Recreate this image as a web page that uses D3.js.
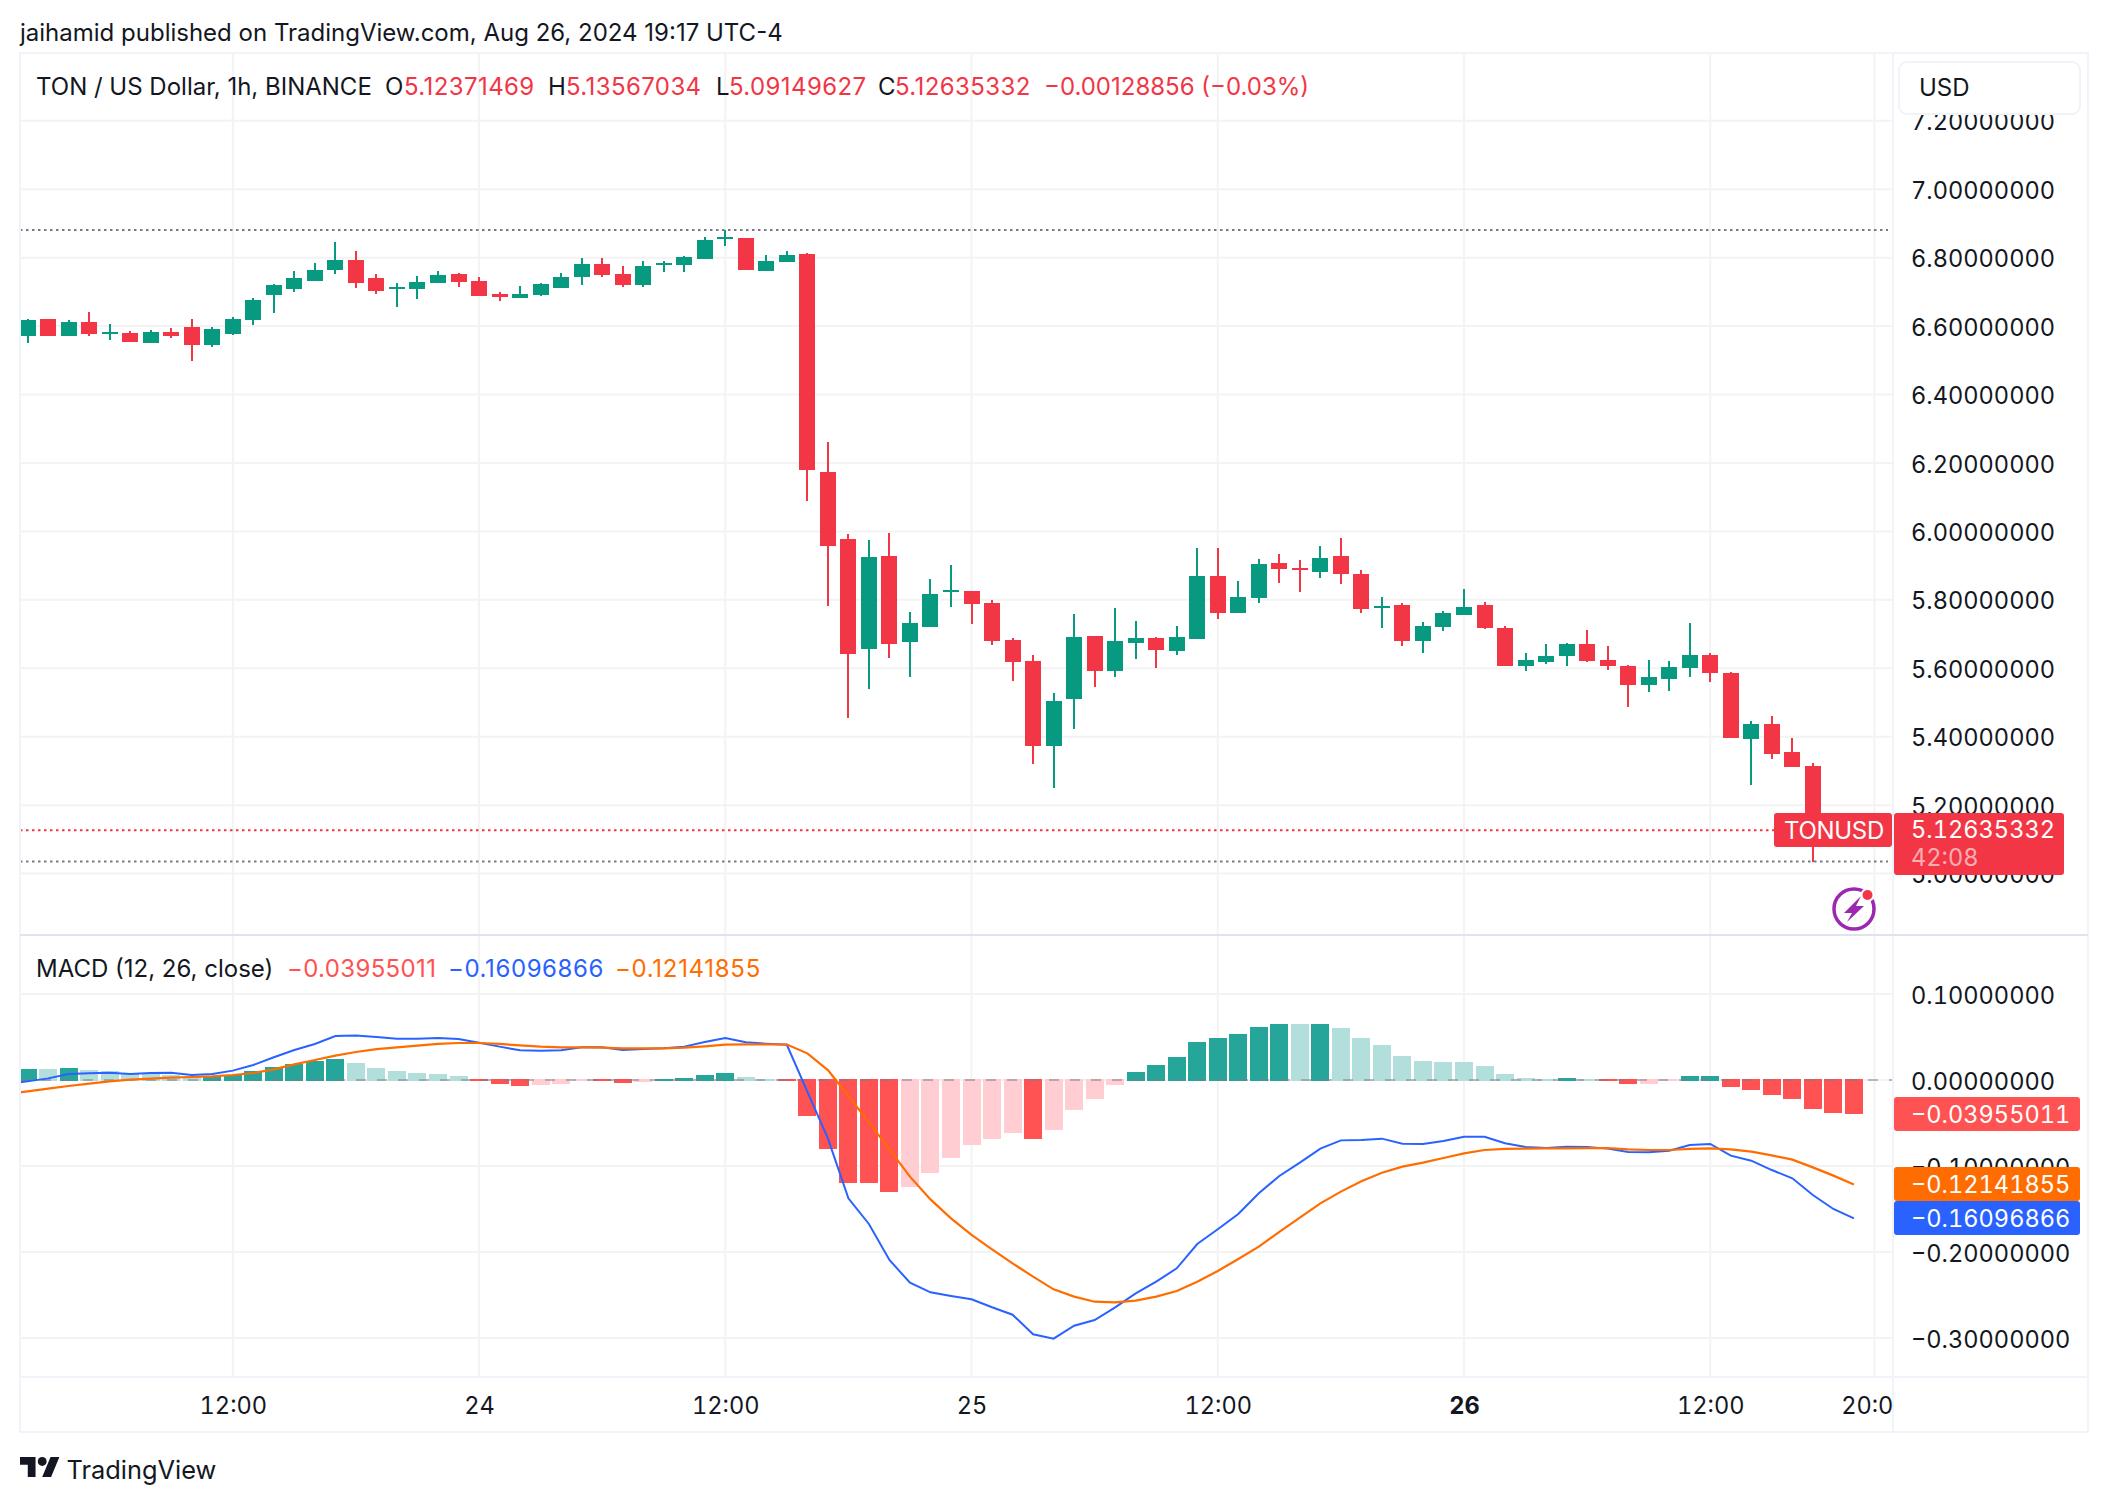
<!DOCTYPE html>
<html>
<head>
<meta charset="utf-8">
<title>TON / US Dollar</title>
<script src="https://cdn.jsdelivr.net/npm/d3@7"></script>
<style>
    html, body { margin: 0; padding: 0; background: #fff; }
    svg { display: block; }
    text { font-family: Inter, "Noto Sans", sans-serif; fill: #131722; }
    .num { font-variant-numeric: tabular-nums; font-feature-settings: "tnum" 1; }
    .legend-num { letter-spacing: 0.4px; }
</style>
</head>
<body>
<div id="chart"></div>
<script>
// Hourly candles, first bar is Aug 23 02:00, last bar Aug 26 19:00
const candleOpen = [
    6.571, 6.621, 6.571, 6.612, 6.577, 6.580, 6.551, 6.583, 6.597, 6.545,
    6.577, 6.618, 6.691, 6.708, 6.732, 6.764, 6.793, 6.741, 6.708, 6.708,
    6.726, 6.752, 6.732, 6.694, 6.682, 6.691, 6.711, 6.744, 6.781, 6.752,
    6.720, 6.779, 6.779, 6.796, 6.855, 6.857, 6.761, 6.787, 6.811, 6.174,
    5.978, 5.656, 5.929, 5.677, 5.721, 5.823, 5.826, 5.791, 5.683, 5.622,
    5.373, 5.510, 5.694, 5.593, 5.674, 5.689, 5.651, 5.685, 5.870, 5.762,
    5.805, 5.908, 5.894, 5.881, 5.927, 5.877, 5.775, 5.784, 5.679, 5.722,
    5.757, 5.784, 5.717, 5.608, 5.617, 5.635, 5.670, 5.623, 5.608, 5.550,
    5.570, 5.600, 5.638, 5.585, 5.394, 5.438, 5.356, 5.315, 5.140, 5.12371469
];
const candleHigh = [
    6.621, 6.621, 6.618, 6.641, 6.606, 6.586, 6.589, 6.594, 6.621, 6.597,
    6.627, 6.682, 6.723, 6.761, 6.784, 6.846, 6.819, 6.752, 6.726, 6.746,
    6.761, 6.755, 6.744, 6.700, 6.717, 6.726, 6.755, 6.799, 6.799, 6.776,
    6.790, 6.790, 6.805, 6.860, 6.881, 6.857, 6.808, 6.819, 6.814, 6.262,
    5.992, 5.975, 5.996, 5.764, 5.861, 5.902, 5.826, 5.800, 5.689, 5.639,
    5.528, 5.759, 5.694, 5.776, 5.738, 5.692, 5.723, 5.951, 5.951, 5.855,
    5.920, 5.934, 5.917, 5.958, 5.980, 5.886, 5.807, 5.790, 5.734, 5.766,
    5.831, 5.795, 5.725, 5.646, 5.670, 5.673, 5.711, 5.664, 5.611, 5.623,
    5.620, 5.731, 5.644, 5.588, 5.446, 5.461, 5.397, 5.324, 5.160, 5.13567034
];
const candleLow = [
    6.551, 6.571, 6.571, 6.571, 6.559, 6.554, 6.551, 6.565, 6.498, 6.539,
    6.574, 6.603, 6.638, 6.700, 6.732, 6.752, 6.711, 6.694, 6.656, 6.679,
    6.726, 6.714, 6.688, 6.673, 6.682, 6.688, 6.711, 6.720, 6.744, 6.714,
    6.714, 6.758, 6.758, 6.796, 6.834, 6.764, 6.761, 6.787, 6.089, 5.782,
    5.455, 5.540, 5.630, 5.575, 5.721, 5.780, 5.730, 5.668, 5.563, 5.320,
    5.250, 5.423, 5.545, 5.575, 5.627, 5.601, 5.639, 5.685, 5.744, 5.762,
    5.791, 5.850, 5.823, 5.864, 5.845, 5.763, 5.719, 5.664, 5.644, 5.708,
    5.757, 5.714, 5.606, 5.591, 5.614, 5.606, 5.617, 5.594, 5.486, 5.530,
    5.535, 5.576, 5.559, 5.395, 5.259, 5.335, 5.312, 5.035, 5.080, 5.09149627
];
const candleClose = [
    6.618, 6.571, 6.612, 6.577, 6.583, 6.554, 6.583, 6.571, 6.545, 6.592,
    6.621, 6.676, 6.720, 6.741, 6.764, 6.793, 6.726, 6.703, 6.714, 6.729,
    6.749, 6.729, 6.688, 6.685, 6.694, 6.723, 6.744, 6.781, 6.749, 6.720,
    6.776, 6.784, 6.802, 6.852, 6.860, 6.764, 6.790, 6.808, 6.180, 5.958,
    5.643, 5.925, 5.671, 5.733, 5.817, 5.829, 5.788, 5.680, 5.618, 5.373,
    5.505, 5.692, 5.593, 5.680, 5.689, 5.654, 5.692, 5.870, 5.762, 5.809,
    5.905, 5.890, 5.888, 5.922, 5.877, 5.772, 5.781, 5.679, 5.725, 5.763,
    5.778, 5.717, 5.608, 5.623, 5.635, 5.670, 5.620, 5.606, 5.550, 5.576,
    5.603, 5.638, 5.585, 5.395, 5.438, 5.350, 5.312, 5.140, 5.12764188, 5.12635332
];

// MACD histogram, one value per candle
const histValues = [
    .0130, .0127, .0140, .0116, .0101, .0078, .0066, .0058, .0039, .0047,
    .0058, .0105, .0151, .0186, .0221, .0244, .0198, .0140, .0105, .0081,
    .0070, .0047, -.0012, -.0047, -.0070, -.0058, -.0047, -.0010, -.0014, -.0035,
    -.0023, .0012, .0023, .0058, .0081, .0035, .0012, -.0012, -.0419, -.0802,
    -.1195, -.1200, -.1302, -.1244, -.1081, -.0907, -.0756, -.0686, -.0616, -.0686,
    -.0581, -.0349, -.0221, -.0058, .0093, .0174, .0267, .0442, .0488, .0535,
    .0616, .0652, .0648, .0652, .0605, .0488, .0407, .0279, .0221, .0209,
    .0207, .0163, .0070, .0023, .0012, .0023, .0012, -.0012, -.0047, -.0045,
    -.0012, .0047, .0048, -.0081, -.0116, -.0174, -.0221, -.0337, -.0385, -.03955011
];

// The two lines start one bar earlier, that bar sits left of the pane edge
const macdValues = [
    -.0047,
    -.0016, .0019, .0070, .0078, .0085, .0070, .0081, .0085, .0058, .0070,
    .0109, .0174, .0264, .0349, .0419, .0512, .0516, .0500, .0481, .0481,
    .0488, .0477, .0434, .0388, .0345, .0341, .0345, .0380, .0380, .0349,
    .0360, .0368, .0388, .0442, .0488, .0438, .0422, .0410, -.0136, -.0678,
    -.1376, -.1674, -.2093, -.2357, -.2469, -.2512, -.2550, -.2643, -.2729, -.2957,
    -.3008, -.2857, -.2791, -.2643, -.2481, -.2345, -.2190, -.1907, -.1736, -.1558,
    -.1318, -.1116, -.0961, -.0798, -.0702, -.0698, -.0682, -.0740, -.0744, -.0709,
    -.0659, -.0659, -.0736, -.0779, -.0791, -.0775, -.0779, -.0798, -.0837, -.0841,
    -.0822, -.0756, -.0744, -.0880, -.0938, -.1047, -.1143, -.1337, -.1500, -.16096866
];
const signalValues = [
    -.0163,
    -.0132, -.0101, -.0070, -.0043, -.0016, .0004, .0016, .0027, .0035, .0043,
    .0058, .0081, .0124, .0182, .0233, .0283, .0326, .0360, .0380, .0399,
    .0419, .0430, .0430, .0419, .0403, .0388, .0380, .0380, .0376, .0368,
    .0368, .0368, .0376, .0391, .0411, .0415, .0415, .0413, .0310, .0116,
    -.0186, -.0492, -.0806, -.1124, -.1388, -.1609, -.1802, -.1969, -.2132, -.2287,
    -.2434, -.2519, -.2578, -.2585, -.2566, -.2519, -.2453, -.2345, -.2221, -.2081,
    -.1938, -.1767, -.1601, -.1434, -.1298, -.1178, -.1078, -.1008, -.0961, -.0907,
    -.0853, -.0814, -.0802, -.0798, -.0795, -.0795, -.0791, -.0791, -.0806, -.0814,
    -.0814, -.0802, -.0795, -.0806, -.0833, -.0876, -.0926, -.1016, -.1112, -.12141855
];

const priceTicks = [7.2, 7.0, 6.8, 6.6, 6.4, 6.2, 6.0, 5.8, 5.6, 5.4, 5.2, 5.0];
const macdTicks = [0.1, 0, -0.1, -0.2, -0.3];
const timeTickBars = [10, 22, 34, 46, 58, 70, 82, 90];
const timeTickLabels = ['12:00', '24', '12:00', '25', '12:00', '26', '12:00', '20:00'];
const boldTimeLabel = '26';

const highLine = 6.881;
const lowLine = 5.035;
const lastPrice = 5.12635332;
const countdown = '42:08';

const titleText = 'jaihamid published on TradingView.com, Aug 26, 2024 19:17 UTC-4';
const legendName = 'TON / US Dollar, 1h, BINANCE';
const legendOhlc = [
    ['O', '5.12371469', 385, 404],
    ['H', '5.13567034', 548, 566],
    ['L', '5.09149627', 716, 729],
    ['C', '5.12635332', 878, 895]
];
const legendChange = '\u22120.00128856 (\u22120.03%)';
const macdLegend = 'MACD (12, 26, close)';

const red = '#f23645';
const green = '#089981';
const textColor = '#131722';
const gridColor = '#f3f3f4';
const frameColor = '#f0f3fa';
const macdRed = '#ff5252';
const macdBlue = '#2962ff';
const macdOrange = '#ff6d00';

const width = 2108;
const height = 1502;
const paneLeft = 20;
const paneRight = 1893;
const frameRight = 2088;
const frameTop = 53;
const paneSplit = 935;
const paneBottom = 1377;
const frameBottom = 1432;
const axisTextX = 1911;
const fontSize = 24;
const axisFontSize = 23.6;

const svg = d3.select('#chart')
    .append('svg')
    .attr('width', width)
    .attr('height', height);

const x = d3.scaleLinear().domain([0, 89]).range([27.6, 1853.9]);
const yPrice = d3.scaleLinear().domain([5.0, 7.2]).range([873.6, 120.8]);
const yMacd = d3.scaleLinear().domain([-0.3, 0.1]).range([1338, 994]);

const defs = svg.append('defs');
function addClip(id, x0, y0, w, h) {
    defs.append('clipPath').attr('id', id)
        .append('rect').attr('x', x0).attr('y', y0).attr('width', w).attr('height', h);
}
addClip('clip-price', paneLeft, frameTop, paneRight - paneLeft, paneSplit - frameTop);
addClip('clip-macd', paneLeft, paneSplit, paneRight - paneLeft, paneBottom - paneSplit);
addClip('clip-time', paneLeft, paneBottom, paneRight - paneLeft, frameBottom - paneBottom);

// Gridlines
const grid = svg.append('g').attr('stroke', gridColor).attr('stroke-width', 2);
grid.selectAll('.vgrid').data(timeTickBars).enter().append('line')
    .attr('x1', d => x(d)).attr('x2', d => x(d))
    .attr('y1', frameTop).attr('y2', paneBottom);
grid.selectAll('.pgrid').data(priceTicks).enter().append('line')
    .attr('x1', paneLeft).attr('x2', paneRight)
    .attr('y1', d => yPrice(d)).attr('y2', d => yPrice(d));
grid.selectAll('.mgrid').data(macdTicks).enter().append('line')
    .attr('x1', paneLeft).attr('x2', paneRight)
    .attr('y1', d => yMacd(d)).attr('y2', d => yMacd(d));

// Candles
const candles = svg.append('g').attr('clip-path', 'url(#clip-price)').attr('shape-rendering', 'crispEdges');
const bars = candleOpen.map((o, i) => ({
    i: i, o: o, h: candleHigh[i], l: candleLow[i], c: candleClose[i]
}));
candles.selectAll('.wick').data(bars).enter().append('rect')
    .attr('x', d => x(d.i) - 1)
    .attr('width', 2)
    .attr('y', d => yPrice(d.h))
    .attr('height', d => yPrice(d.l) - yPrice(d.h))
    .attr('fill', d => d.c >= d.o ? green : red);
candles.selectAll('.body').data(bars).enter().append('rect')
    .attr('x', d => x(d.i) - 8)
    .attr('width', 16)
    .attr('y', d => yPrice(Math.max(d.o, d.c)))
    .attr('height', d => Math.max(2, yPrice(Math.min(d.o, d.c)) - yPrice(Math.max(d.o, d.c))))
    .attr('fill', d => d.c >= d.o ? green : red);

// High, low and last price dotted lines
const dotted = svg.append('g').attr('stroke-width', 2).attr('stroke-dasharray', '2.5 3.5');
dotted.selectAll('.hl').data([highLine, lowLine]).enter().append('line')
    .attr('x1', paneLeft).attr('x2', 1888)
    .attr('y1', d => yPrice(d)).attr('y2', d => yPrice(d))
    .attr('stroke', '#787b86');
dotted.append('line')
    .attr('x1', paneLeft).attr('x2', 1774)
    .attr('y1', yPrice(lastPrice)).attr('y2', yPrice(lastPrice))
    .attr('stroke', red);

// MACD histogram, shade depends on the change from the previous bar
function histColor(v, i) {
    const prev = i > 0 ? histValues[i - 1] : -1;
    if (v >= 0) return v >= prev ? '#26a69a' : '#b2dfdb';
    return v < prev ? macdRed : '#ffcdd2';
}
const macdPane = svg.append('g').attr('clip-path', 'url(#clip-macd)');
macdPane.append('g').attr('shape-rendering', 'crispEdges')
    .selectAll('rect').data(histValues).enter().append('rect')
    .attr('x', (d, i) => x(i) - 9)
    .attr('width', 18)
    .attr('y', d => d >= 0 ? yMacd(d) : yMacd(0) - 1)
    .attr('height', d => d >= 0 ? yMacd(0) + 1 - yMacd(d) : yMacd(d) - yMacd(0) + 1)
    .attr('fill', histColor);

macdPane.append('line')
    .attr('x1', paneLeft).attr('x2', paneRight)
    .attr('y1', yMacd(0)).attr('y2', yMacd(0))
    .attr('stroke', '#787b86').attr('stroke-opacity', 0.5)
    .attr('stroke-width', 2).attr('stroke-dasharray', '10 11');

const macdLine = d3.line().x((d, i) => x(i - 1)).y(d => yMacd(d));
macdPane.append('path').attr('d', macdLine(macdValues))
    .attr('fill', 'none').attr('stroke', macdBlue).attr('stroke-width', 2);
macdPane.append('path').attr('d', macdLine(signalValues))
    .attr('fill', 'none').attr('stroke', macdOrange).attr('stroke-width', 2.2);

// Frame and pane dividers
const frame = svg.append('g').attr('stroke', frameColor).attr('stroke-width', 2).attr('fill', 'none');
frame.append('rect')
    .attr('x', paneLeft).attr('y', frameTop)
    .attr('width', frameRight - paneLeft).attr('height', frameBottom - frameTop);
frame.append('line')
    .attr('x1', paneRight).attr('x2', paneRight).attr('y1', frameTop).attr('y2', frameBottom);
frame.append('line')
    .attr('x1', paneLeft).attr('x2', frameRight).attr('y1', paneBottom).attr('y2', paneBottom);
frame.append('line')
    .attr('x1', paneLeft).attr('x2', frameRight).attr('y1', paneSplit).attr('y2', paneSplit)
    .attr('stroke', '#e0e3eb');

// Price and MACD axes
function styleAxis(g) {
    g.select('.domain').remove();
    g.selectAll('.tick line').remove();
    g.selectAll('text')
        .attr('x', 0)
        .attr('y', 1.5)
        .attr('text-anchor', 'start')
        .attr('class', 'num')
        .attr('font-size', axisFontSize)
        .attr('font-family', 'Inter')
        .attr('fill', textColor);
}
svg.append('g')
    .attr('transform', `translate(${axisTextX},0)`)
    .call(d3.axisRight(yPrice).tickValues(priceTicks).tickFormat(d3.format('.8f')))
    .call(styleAxis);
svg.append('g')
    .attr('transform', `translate(${axisTextX},0)`)
    .call(d3.axisRight(yMacd).tickValues(macdTicks).tickFormat(d3.format('.8f')))
    .call(styleAxis);

// Time axis, the last label is cut by the price axis
const timeAxis = svg.append('g')
    .attr('clip-path', 'url(#clip-time)')
    .append('g')
    .attr('transform', 'translate(0,1397)')
    .call(d3.axisBottom(x).tickValues(timeTickBars).tickFormat((d, i) => timeTickLabels[i]));
timeAxis.select('.domain').remove();
timeAxis.selectAll('.tick line').remove();
timeAxis.selectAll('text')
    .attr('y', 0)
    .attr('dy', '0.71em')
    .attr('class', 'num')
    .attr('font-size', axisFontSize)
    .attr('font-family', 'Inter')
    .attr('font-weight', (d, i) => timeTickLabels[i] === boldTimeLabel ? 700 : 400)
    .attr('fill', textColor);

// Title and legends
function addText(str, tx, ty, color, size) {
    return svg.append('text')
        .attr('x', tx).attr('y', ty)
        .attr('dominant-baseline', 'central')
        .attr('font-size', size || fontSize)
        .style('fill', color || textColor)
        .text(str);
}
addText(titleText, 20, 32);
addText(legendName, 36, 86);
legendOhlc.forEach(d => {
    addText(d[0], d[2], 86);
    addText(d[1], d[3], 86, red).attr('class', 'legend-num');
});
addText(legendChange, 1044, 86, red);

addText(macdLegend, 36, 968);
addText('\u22120.03955011', 287, 968, macdRed).attr('letter-spacing', 0.35);
addText('\u22120.16096866', 448, 968, macdBlue).attr('letter-spacing', 0.6);
addText('\u22120.12141855', 615, 968, macdOrange).attr('letter-spacing', 0.7);

// USD button
svg.append('rect')
    .attr('x', 1899).attr('y', 62).attr('width', 181).attr('height', 52).attr('rx', 8)
    .attr('fill', '#fff').attr('stroke', frameColor).attr('stroke-width', 2);
addText('USD', 1919, 87);

// Axis value labels
function addLabel(lx, ly, w, h, color, str) {
    svg.append('rect')
        .attr('x', lx).attr('y', ly).attr('width', w).attr('height', h).attr('rx', 3)
        .attr('fill', color);
    if (str) addText(str, axisTextX, ly + h / 2, '#fff', axisFontSize).attr('class', 'num');
}
const fmt = d3.format('.8f');
addLabel(1774, 813, 118, 34, red);
addText('TONUSD', 1784, 830, '#fff').attr('letter-spacing', -0.3);
addLabel(1894, 813, 170, 62, red);
addText(fmt(lastPrice), axisTextX, 829.5, '#fff', axisFontSize).attr('class', 'num');
addText(countdown, axisTextX, 857.5, 'rgba(255,255,255,0.6)', axisFontSize).attr('class', 'num');
addLabel(1894, 1097, 186, 34, macdRed, fmt(histValues[histValues.length - 1]));
addLabel(1894, 1167, 186, 34, macdOrange, fmt(signalValues[signalValues.length - 1]));
addLabel(1894, 1201, 186, 34, macdBlue, fmt(macdValues[macdValues.length - 1]));

// Bolt badge
const badge = svg.append('g').attr('transform', 'translate(1854,909)');
badge.append('circle').attr('r', 20).attr('fill', '#fff')
    .attr('stroke', '#9c27b0').attr('stroke-width', 3.5);
badge.append('path')
    .attr('d', 'M7 -13 L-10 4 L-2 4 L-7 13 L10 -3 L2 -3 Z')
    .attr('fill', '#9c27b0');
badge.append('circle').attr('cx', 13.5).attr('cy', -14).attr('r', 7).attr('fill', '#fff');
badge.append('circle').attr('cx', 13.5).attr('cy', -14).attr('r', 5).attr('fill', red);

// TradingView logo
const logo = svg.append('g')
    .attr('transform', 'translate(20,1452.6) scale(1.11)')
    .attr('fill', textColor);
logo.append('path').attr('d', 'M14 22H7V11H0V4h14v18zM28 22h-8l7.5-18h8L28 22z');
logo.append('circle').attr('cx', 20).attr('cy', 8).attr('r', 4);
addText('TradingView', 66.5, 1469, textColor, 25.4);
</script>
</body>
</html>
